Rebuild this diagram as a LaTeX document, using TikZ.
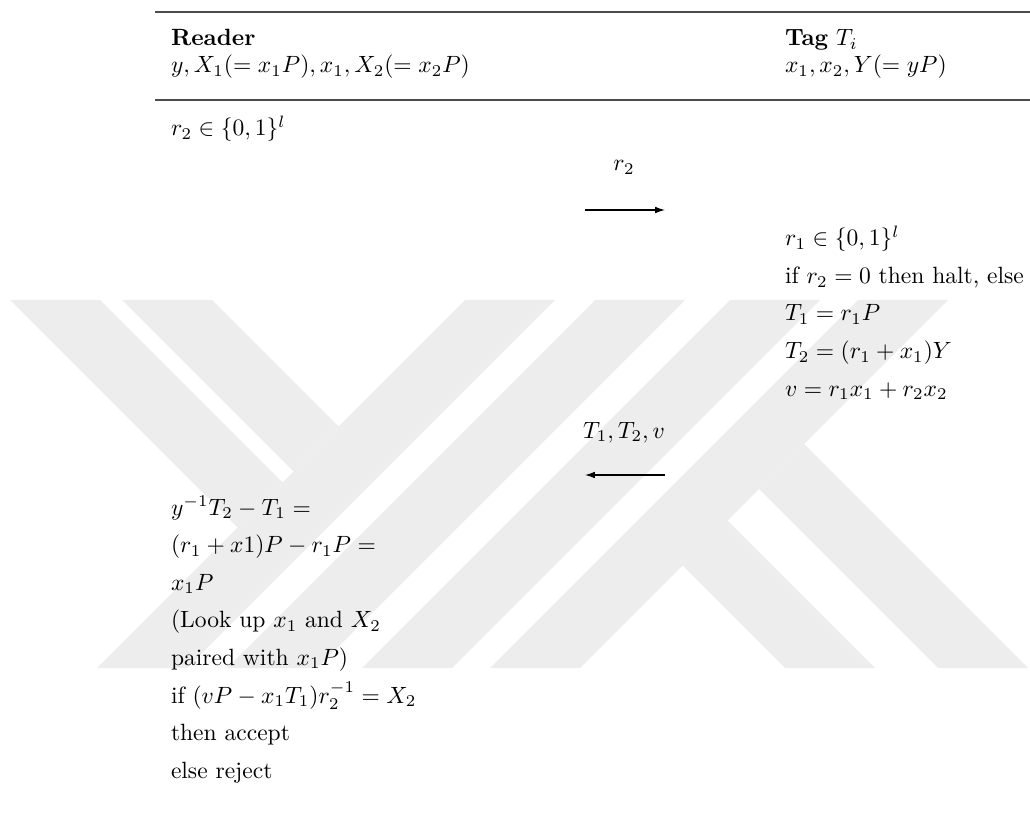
\documentclass[tikz,border=0pt]{standalone}
\usetikzlibrary{arrows.meta}
\begin{document}
\begin{tikzpicture}[x=0.425pt,y=-0.425pt,
  txt/.style={inner sep=0pt,outer sep=0pt,anchor=base west},
  lbl/.style={inner sep=0pt,outer sep=0pt,anchor=base},
  msg/.style={-{Latex[length=4.2pt,width=2.8pt]},line width=0.45pt},
  rul/.style={line width=0.55pt,black!70},
  wm/.style={fill=black!7,draw=none}]
\useasboundingbox (0,0) rectangle (1030,832);
% watermark
\fill[wm] (465,300) -- (555,300) -- (187,668) -- (97,668) -- cycle;
\fill[wm] (595,300) -- (685,300) -- (317,668) -- (227,668) -- cycle;
\fill[wm] (730,300) -- (820,300) -- (452,668) -- (362,668) -- cycle;
\fill[wm] (858,300) -- (948,300) -- (580,668) -- (490,668) -- cycle;
\fill[wm] (10,300) -- (100,300) -- (282.5,482.5) -- (237.5,527.5) -- cycle;
\fill[wm] (122,300) -- (212,300) -- (338.5,426.5) -- (293.5,471.5) -- cycle;
\fill[wm] (637.5,520.5) -- (727.5,520.5) -- (875,668) -- (785,668) -- cycle;
\fill[wm] (759,489) -- (804,444) -- (1028,668) -- (938,668) -- cycle;
% rules
\coordinate (r1a) at (155,12); \coordinate (r1b) at (1030,12);
\coordinate (r2a) at (155,100); \coordinate (r2b) at (1030,100);
\draw[rul] (r1a) -- (r1b);
\draw[rul] (r2a) -- (r2b);
% header
\node[txt] (hR) at (171,46) {\textbf{Reader}};
\node[txt] (hRk) at (171,73) {$y, X_1(=x_1P), x_1, X_2(=x_2P)$};
\node[txt] (hT) at (785,46) {\textbf{Tag} $T_i$};
\node[txt] (hTk) at (785,73) {$x_1, x_2, Y(=yP)$};
% body
\node[txt] (l0) at (171,136) {$r_2 \in \{0,1\}^l$};
\node[lbl] (m1) at (624,171) {$r_2$};
\coordinate (a1s) at (585,210); \coordinate (a1e) at (665,210);
\draw[msg] (a1s) -- (a1e);
\node[txt] (t1) at (785,246) {$r_1 \in \{0,1\}^l$};
\node[txt] (t2) at (785,283.5) {if $r_2=0$ then halt, else};
\node[txt] (t3) at (785,321) {$T_1=r_1P$};
\node[txt] (t4) at (785,358.5) {$T_2=(r_1+x_1)Y$};
\node[txt] (t5) at (785,396) {$v=r_1x_1+r_2x_2$};
\node[lbl] (m2) at (624,438) {$T_1, T_2, v$};
\coordinate (a2s) at (665,475); \coordinate (a2e) at (585,475);
\draw[msg] (a2s) -- (a2e);
\node[txt] (v1) at (171,515) {$y^{-1}T_2-T_1=$};
\node[txt] (v2) at (171,552.6) {$(r_1+x1)P-r_1P=$};
\node[txt] (v3) at (171,590.2) {$x_1P$};
\node[txt] (v4) at (171,627.8) {(Look up $x_1$ and $X_2$};
\node[txt] (v5) at (171,665.4) {paired with $x_1P$)};
\node[txt] (v6) at (171,703) {if $(vP-x_1T_1)r_2^{-1}=X_2$};
\node[txt] (v7) at (171,740.6) {then accept};
\node[txt] (v8) at (171,778.2) {else reject};
\end{tikzpicture}
\end{document}
